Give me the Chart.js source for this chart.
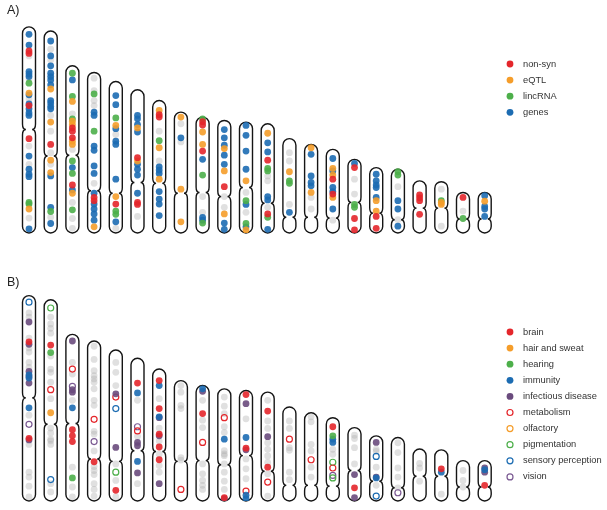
<!DOCTYPE html>
<html>
<head>
<meta charset="utf-8">
<script src="https://cdn.jsdelivr.net/npm/chart.js@4.4.1/dist/chart.umd.min.js"></script>
<style>
  body { margin: 0; background: #fff; }
  .panel { position: absolute; left: 0; }
  #panelA { top: 0; }
  #panelB { top: 268px; }
</style>
</head>
<body>
<div class="panel" id="panelA"><canvas id="chartA" width="607" height="255"></canvas></div>
<div class="panel" id="panelB"><canvas id="chartB" width="607" height="242"></canvas></div>
<script>
// Chromosomes (Mb): length and centromere position
const chromosomes = ['1','2','3','4','5','6','7','8','9','10','11','12','13','14','15','16','17','18','19','20','21','22'];
const chrLength = [249, 244, 202, 194, 183, 173, 160, 146, 140, 136, 134, 132, 114, 107, 101, 89, 79, 77, 63, 62, 49, 49];
const centromere = [125, 93, 94, 51, 48, 61, 60, 48, 49, 44, 55, 36, 19, 19, 18, 37, 24, 16, 30, 30, 17, 17];

// ---- Panel A : [chromosome, position Mb]
const catA = ['non-syn', 'eQTL', 'lincRNA', 'genes'];
const colA = ['#e4262b', '#f59d2a', '#4daf4a', '#1c6cb2'];

const nonSyn = [[1,220],[1,217],[1,154],[1,114],[2,107],[3,127],[3,123],[3,115],[3,58],[4,43],[4,39],[5,35],
  [6,91],[6,37],[6,34.5],[7,143],[7,140],[9,134.5],[9,130.5],[9,99],[10,56],[12,88],[12,23],[15,65],[15,47],
  [16,79],[16,17.5],[16,3.6],[17,20],[17,5.6],[19,46],[19,42.5],[19,39],[19,22.6],[21,43]];
const eQTL = [[1,169],[1,29],[2,174],[2,134],[2,88],[2,73],[3,159],[3,135],[3,131],[3,111],[3,107],[3,48],[4,7.5],
  [5,130],[5,44],[6,127],[6,87],[7,148],[7,103],[7,65],[8,140],[8,53],[8,13.5],[9,122],[9,107],[10,102],[10,75],
  [10,23],[11,63],[11,3.6],[12,120.5],[13,74],[14,103],[14,49],[15,78],[15,70],[15,43],[17,39],[17,26.5],
  [20,37],[20,34.5],[22,38.5]];
const lincRNA = [[1,181],[1,37],[1,35],[2,26],[3,193],[3,165],[3,138],[3,87],[3,72],[3,28],[4,168],[4,123],
  [5,139],[5,26.5],[5,22.6],[7,111.5],[9,138],[9,70],[9,12],[11,39],[11,11.5],[12,78],[12,75],[12,19],
  [13,63],[13,60],[16,34.5],[16,31],[18,74],[18,70],[20,39],[21,17.5]];
const genes = [[1,240],[1,227],[1,195],[1,192],[1,189],[1,167],[1,156],[1,150],[1,145],[1,142],[1,93],[1,77],
  [1,71],[1,68],[1,5],[2,232],[2,214],[2,202],[2,193],[2,189],[2,185],[2,179],[2,160],[2,157],[2,153],[2,150],
  [2,69],[2,31],[2,11.5],[3,185],[3,79],[3,52],[4,146],[4,142],[4,105],[4,100],[4,81],[4,72],[4,48],[4,35],
  [4,29],[4,23],[4,15.5],[5,166],[5,155],[5,126],[5,111],[5,107],[5,65],[5,13.5],[6,142],[6,138],[6,131],
  [6,122],[6,83],[6,77],[6,70],[6,48],[7,80],[7,76],[7,72],[7,50],[7,41],[7,35],[7,21],[8,115],[9,89],
  [9,18.7],[9,15.5],[10,125],[10,115],[10,106],[10,94],[10,83],[10,12],[10,4.4],[11,130],[11,118],[11,99],
  [11,77],[11,34.5],[11,7.5],[12,109],[12,98],[12,44],[12,40],[12,4.4],[13,25],[14,95],[14,69],[14,61],
  [14,57],[15,90],[15,75],[15,55],[15,50],[15,29],[16,84],[17,71],[17,63],[17,58],[17,55],[17,43],[18,39],
  [18,29],[18,8.3],[22,45],[22,32],[22,29],[22,20]];
const greyA = [[1,214],[1,186],[1,162],[1,105],[1,83],[1,18],[2,222],[2,209],[2,142],[2,123],[2,97],[2,83],[2,19],
  [3,144],[3,101],[3,37],[3,17.5],[3,5.6],[4,187],[4,172],[4,160],[4,154],[4,60],[5,119],[5,5.6],[6,20],
  [7,123],[7,87],[8,132],[8,110],[9,44],[9,25],[10,44],[10,31],[11,49],[11,25],[12,69],[12,63],[12,31],
  [13,97],[13,87],[13,34.5],[14,43],[14,29],[15,15.5],[16,65],[16,47],[18,56],[18,16],[20,53],[20,8.3],[21,26.5]];

// ---- Panel B
const catB = ['brain', 'hair and sweat', 'hearing', 'immunity', 'infectious disease',
  'metabolism', 'olfactory', 'pigmentation', 'sensory perception', 'vision'];
const colB = ['#e4262b', '#f59d2a', '#4daf4a', '#1c6cb2', '#6a4b7d',
  '#e4262b', '#f59d2a', '#4daf4a', '#1c6cb2', '#7b5a93'];

const brain = [[1,193],[1,76],[2,189],[3,86.5],[3,79],[3,72],[4,47.6],[5,13],[6,143],[7,146],[7,112],[7,81],
  [7,65.5],[7,50],[9,106],[10,4],[11,129],[11,64],[12,109],[12,41],[15,90],[16,16],[20,39],[22,19]];
const hairSweat = [[2,107]];
const hearing = [[2,180],[3,28],[15,79]];
const immunity = [[1,153],[1,149],[1,113],[3,113],[6,131],[6,48],[7,140],[7,102],[9,136],[10,75],[11,77],
  [11,7],[11,3],[15,75],[15,71],[17,28],[20,35],[22,38]];
const infectious = [[1,217],[1,190],[1,157],[1,151],[1,143],[1,74],[3,194],[3,135],[3,132],[5,130],[5,65],
  [6,71],[6,67],[6,34],[7,101],[7,79],[7,21],[9,133],[10,3],[11,118],[11,62],[12,78],[16,32],[16,4],
  [17,71],[17,29],[22,40],[22,35]];
const metabolism = [[2,135],[3,160],[4,99],[5,126],[6,85],[8,14],[9,71],[10,101],[11,12],[12,23],[13,75],
  [14,50],[15,40]];
const olfactory = [];
const pigmentation = [[2,234],[5,35],[15,47],[15,28]];
const sensory = [[1,241],[2,26],[5,112],[17,54],[17,6]];
const vision = [[1,93],[3,139],[4,72],[6,90],[15,31],[18,10]];
const greyB = [[1,228],[1,223],[1,197.5],[1,185.6],[1,180.5],[1,168],[1,162],[1,104],[1,68.6],[1,35],[1,29],
  [1,18],[1,5],[2,223],[2,214.6],[2,209.4],[2,203.5],[2,175.8],[2,160],[2,156],[2,144],[2,124],[2,88.4],
  [2,82.5],[2,75],[2,73],[2,68.6],[2,21],[2,11],[3,168],[3,154],[3,122],[3,41],[3,17],[3,5],
  [4,187.6],[4,171.7],[4,158],[4,152],[4,148],[4,144],[4,136],[4,122],[4,116],[4,84.5],[4,81],[4,60.7],
  [4,41.7],[4,37],[4,32],[4,21],[4,14],[4,6],[5,168],[5,156],[5,140],[5,45],[5,25],[5,5],[6,122],[6,78.5],
  [6,21],[7,124],[7,88.4],[7,72.6],[7,56.7],[7,43],[7,35],[8,140],[8,132],[8,116],[8,112],[8,52.7],[8,49.6],
  [9,122],[9,98],[9,89],[9,45],[9,33],[9,25],[9,19],[9,14],[10,126],[10,115],[10,106],[10,90],[10,83],
  [10,61],[10,57],[10,55],[10,45],[10,35],[10,24],[10,14],[11,99.6],[11,51],[11,39],[11,27],[12,122],[12,97],
  [12,88],[12,70.6],[12,62.7],[12,54.7],[12,46.8],[12,33],[12,6],[13,97],[13,88],[13,64.6],[13,61.5],[13,35],
  [13,25.8],[14,102],[14,96],[14,68.6],[14,60.7],[14,41],[14,29],[15,62.7],[15,56.7],[16,79.7],[16,75.8],
  [16,64.6],[16,45],[17,62.7],[17,60],[17,41],[17,19],[18,70.6],[18,58.7],[18,40],[18,29],[18,16],
  [19,45.6],[19,40],[19,24],[20,8.3],[21,37],[21,25],[21,17]];

const seriesA = [nonSyn, eQTL, lincRNA, genes];
const seriesB = [brain, hairSweat, hearing, immunity, infectious, metabolism, olfactory, pigmentation, sensory, vision];
const hollowB = [false, false, false, false, false, true, true, true, true, true];

const pts = arr => arr.map(([c, p]) => ({ x: c, y: p }));

function withAlpha(hex, a) {
  const n = parseInt(hex.slice(1), 16);
  return `rgba(${n >> 16},${(n >> 8) & 255},${n & 255},${a})`;
}

function dotSet(label, color, arr, hollow) {
  return {
    label,
    data: pts(arr),
    legendColor: color,
    hollow,
    pointRadius: hollow ? 3 : 3.4,
    pointHoverRadius: hollow ? 3 : 3.4,
    pointBackgroundColor: hollow ? 'rgba(255,255,255,0)' : withAlpha(color, 0.9),
    pointBorderColor: color,
    pointBorderWidth: hollow ? 1.2 : 0,
    order: 0
  };
}

function greySet(arr) {
  return {
    data: pts(arr),
    background: true,
    pointRadius: 3.4,
    pointHoverRadius: 3.4,
    pointBackgroundColor: 'rgba(170,170,170,0.36)',
    pointBorderWidth: 0,
    order: 1
  };
}

// Chromosome outlines drawn from the lengths / centromeres through the scales
const chromosomeOutlines = {
  id: 'chromosomeOutlines',
  beforeDatasetsDraw(chart) {
    const { ctx, scales: { x, y } } = chart;
    const r = 6.5, d = 3.4, h = 5.5;
    ctx.save();
    ctx.strokeStyle = '#151515';
    ctx.lineWidth = 1.4;
    chrLength.forEach((len, i) => {
      const xc = x.getPixelForValue(i + 1);
      const top = y.getPixelForValue(len);
      const bot = y.getPixelForValue(0);
      const cen = y.getPixelForValue(centromere[i]);
      ctx.beginPath();
      ctx.arc(xc, top + r, r, Math.PI, 0);
      ctx.lineTo(xc + r, cen - h);
      ctx.quadraticCurveTo(xc + r, cen, xc + r - d, cen);
      ctx.quadraticCurveTo(xc + r, cen, xc + r, cen + h);
      ctx.lineTo(xc + r, bot - r);
      ctx.arc(xc, bot - r, r, 0, Math.PI);
      ctx.lineTo(xc - r, cen + h);
      ctx.quadraticCurveTo(xc - r, cen, xc - r + d, cen);
      ctx.quadraticCurveTo(xc - r, cen, xc - r, cen - h);
      ctx.closePath();
      ctx.stroke();
    });
    ctx.restore();
  }
};

// Panel letter + legend on the right
const panelLegend = {
  id: 'panelLegend',
  afterDraw(chart, args, opts) {
    const ctx = chart.ctx;
    ctx.save();
    ctx.textBaseline = 'middle';
    ctx.fillStyle = '#222';
    ctx.font = '12.5px "Liberation Sans", Arial, sans-serif';
    ctx.fillText(opts.label, 7, opts.labelY);
    ctx.font = '9.3px "Liberation Sans", Arial, sans-serif';
    chart.data.datasets.filter(ds => !ds.background).forEach((ds, i) => {
      const yy = 64 + i * 16.1;
      ctx.beginPath();
      ctx.arc(510, yy, ds.hollow ? 3 : 3.4, 0, Math.PI * 2);
      if (ds.hollow) {
        ctx.strokeStyle = ds.legendColor;
        ctx.lineWidth = 1.2;
        ctx.stroke();
      } else {
        ctx.fillStyle = ds.legendColor;
        ctx.fill();
      }
      ctx.fillStyle = '#333';
      ctx.fillText(ds.label, 523, yy);
    });
    ctx.restore();
  }
};

function makeChart(canvasId, datasets, label, labelY, padBottom) {
  return new Chart(document.getElementById(canvasId), {
    type: 'scatter',
    data: { datasets },
    options: {
      responsive: false,
      animation: false,
      devicePixelRatio: 1,
      events: [],
      layout: { padding: { left: 7.3, right: 13.8, top: 0, bottom: padBottom } },
      scales: {
        x: { type: 'linear', min: 0, max: 27, display: false },
        y: { type: 'linear', min: 0, max: 277.4, display: false }
      },
      plugins: {
        legend: { display: false },
        tooltip: { enabled: false },
        panelLegend: { label, labelY }
      }
    },
    plugins: [chromosomeOutlines, panelLegend]
  });
}

const dsA = catA.map((c, i) => dotSet(c, colA[i], seriesA[i], false)).concat([greySet(greyA)]);
const dsB = catB.map((c, i) => dotSet(c, colB[i], seriesB[i], hollowB[i])).concat([greySet(greyB)]);

makeChart('chartA', dsA, 'A)', 11, 22);
makeChart('chartB', dsB, 'B)', 14.5, 9);
</script>
</body>
</html>
